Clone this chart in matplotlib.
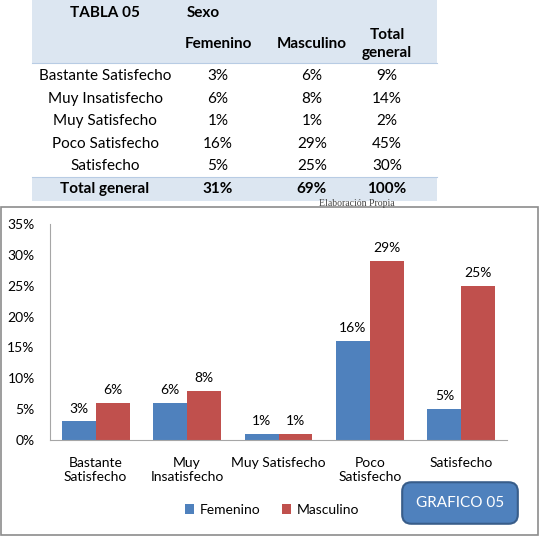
import matplotlib
matplotlib.use("Agg")
import matplotlib.pyplot as plt
import numpy as np
from matplotlib.patches import Rectangle

plt.rcParams['font.family'] = ['Lato', 'DejaVu Sans']

# table / chart data
categories = ["Bastante Satisfecho", "Muy Insatisfecho", "Muy Satisfecho",
              "Poco Satisfecho", "Satisfecho"]
tick_labels = ["Bastante\nSatisfecho", "Muy\nInsatisfecho", "Muy Satisfecho",
               "Poco\nSatisfecho", "Satisfecho"]
femenino = [3, 6, 1, 16, 5]
masculino = [6, 8, 1, 29, 25]
total = [9, 14, 2, 45, 30]
totals_row = ["31%", "69%", "100%"]

blue = "#4f81bd"
red = "#c0504d"
header_bg = "#dce6f1"

W, H = 540, 537
fig = plt.figure(figsize=(W / 100, H / 100), dpi=100)

def fx(x):
    return x / W

def fy(y):
    return 1 - y / H

# ---- table on top ----
fig.patches.append(Rectangle((fx(32), fy(63)), fx(405), 63 / H, transform=fig.transFigure,
                             fc=header_bg, ec="none"))
fig.patches.append(Rectangle((fx(32), fy(201)), fx(405), 24 / H, transform=fig.transFigure,
                             fc=header_bg, ec="none"))
for yl in (63, 177):
    fig.lines.append(plt.Line2D([fx(32), fx(437)], [fy(yl), fy(yl)], transform=fig.transFigure,
                                color="#b8cce4", lw=0.8))

col_x = [105, 218, 312, 387]
fs = 11
fig.text(fx(col_x[0]), fy(13), "TABLA 05", ha="center", va="center", fontsize=fs, weight="bold")
fig.text(fx(203), fy(13), "Sexo", ha="center", va="center", fontsize=fs, weight="bold")
fig.text(fx(col_x[1]), fy(44), "Femenino", ha="center", va="center", fontsize=fs, weight="bold")
fig.text(fx(col_x[2]), fy(44), "Masculino", ha="center", va="center", fontsize=fs, weight="bold")
fig.text(fx(col_x[3]), fy(44), "Total\ngeneral", ha="center", va="center", fontsize=fs,
         weight="bold", linespacing=1.3)

row_y = [76, 99, 121, 144, 166]
for i, cat in enumerate(categories):
    vals = [cat, f"{femenino[i]}%", f"{masculino[i]}%", f"{total[i]}%"]
    for x, v in zip(col_x, vals):
        fig.text(fx(x), fy(row_y[i]), v, ha="center", va="center", fontsize=fs)

for x, v in zip(col_x, ["Total general"] + totals_row):
    fig.text(fx(x), fy(189), v, ha="center", va="center", fontsize=fs, weight="bold")

fig.text(fx(357), fy(204), "Elaboración Propia", ha="center", va="center", fontsize=7,
         family="Liberation Serif", color="#444444")

# ---- chart frame ----
fig.patches.append(Rectangle((fx(1), fy(535)), fx(537), 328 / H, transform=fig.transFigure,
                             fc="none", ec="#8c8c8c", lw=1.2))

ax = fig.add_axes([fx(50), fy(440), fx(457), (440 - 224) / H])
x = np.arange(len(categories))
bw = 0.37
b1 = ax.bar(x - bw / 2, femenino, bw, color=blue, label="Femenino")
b2 = ax.bar(x + bw / 2, masculino, bw, color=red, label="Masculino")
for bars, vals in ((b1, femenino), (b2, masculino)):
    for b, v in zip(bars, vals):
        ax.annotate(f"{v}%", (b.get_x() + b.get_width() / 2, v), xytext=(0, 5),
                    textcoords="offset points", ha="center", va="bottom", fontsize=10)

ax.set_xlim(-0.5, len(categories) - 0.5)
ax.set_ylim(0, 35)
ax.set_yticks(range(0, 36, 5))
ax.set_yticklabels([f"{t}%" for t in range(0, 36, 5)], fontsize=10)
ax.set_xticks(x)
ax.set_xticklabels(tick_labels, fontsize=10, linespacing=1.2)
ax.tick_params(length=0, pad=12)
ax.tick_params(axis="y", pad=11)
for s in ("top", "right"):
    ax.spines[s].set_visible(False)
for s in ("left", "bottom"):
    ax.spines[s].set_color("#a6a6a6")

fig.legend(handles=[b1, b2], loc="center", bbox_to_anchor=(fx(272), fy(510)), ncol=2,
           frameon=False, fontsize=10, handlelength=0.7, handleheight=0.7,
           handletextpad=0.4, columnspacing=1.5)

fig.text(fx(460), fy(503), "GRAFICO 05", ha="center", va="center", fontsize=11, color="white",
         bbox=dict(boxstyle="round,pad=0.9,rounding_size=0.6", fc=blue, ec="#385d8a", lw=1.5))

fig.savefig("out.png", dpi=100)
